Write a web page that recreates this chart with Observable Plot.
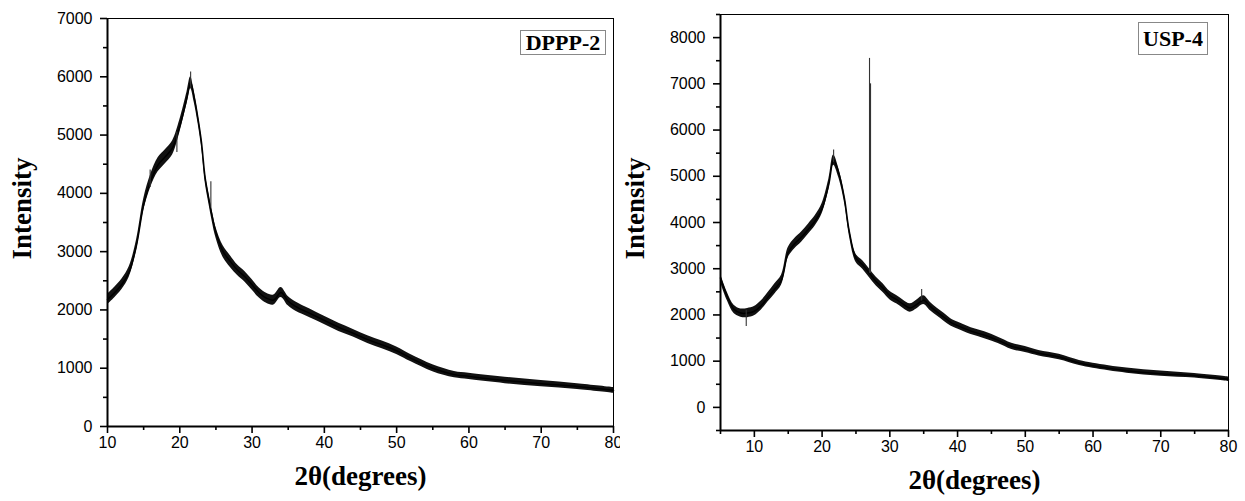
<!DOCTYPE html>
<html><head><meta charset="utf-8">
<script src="https://cdn.jsdelivr.net/npm/d3@7"></script>
<script src="https://cdn.jsdelivr.net/npm/@observablehq/plot@0.6"></script>
<style>
body{margin:0;background:#fff;}
#wrap{position:relative;width:1245px;height:501px;overflow:hidden;background:#fff}
.panel{position:absolute;top:0}
.tag{position:absolute;border:1px solid #888;font-family:"Liberation Serif",serif;font-weight:bold;font-size:22px;text-align:center;background:#fff;box-sizing:border-box;color:#000}
</style></head><body>
<div id="wrap"></div>
<script>
// ---- DPPP-2 (left) ----
const dpppX = [10,11,12,13,14,15,16,17,18,19,20,21,21.5,22,22.5,23,23.5,24,24.5,25,26,27,28,29,30,31,32,33,34,35,36,38,40,42,44,46,48,50,52,55,58,60,65,70,75,80];
const dpppY = [2180,2300,2440,2650,3100,3800,4220,4490,4630,4780,5150,5640,5900,5650,5300,4880,4280,3920,3600,3330,3000,2830,2680,2570,2430,2290,2200,2170,2300,2150,2060,1940,1820,1700,1600,1490,1400,1300,1170,1000,890,860,790,735,685,620];
const dpppN = [90,90,90,90,90,100,110,120,120,120,110,100,100,90,80,80,80,80,90,90,100,100,90,90,90,85,85,85,85,80,80,75,70,70,65,65,65,65,60,60,55,55,55,55,50,50];
const dpppSpikeX = [21.5, 24.3, 15.9, 19.6];
const dpppSpikeLo = [5800, 3750, 4100, 4700];
const dpppSpikeHi = [6080, 4200, 4400, 5050];

// ---- USP-4 (right) ----
const uspX = [5,6,7,8,9,10,11,12,13,14,15,16,17,18,19,20,21,21.7,22.5,23.3,24,25,26,27,28,29,30,31,32,33,34,35,36,37,38,39,40,42,44,46,48,50,52,55,58,60,65,70,75,80];
const uspY = [2800,2400,2120,2040,2040,2080,2200,2380,2560,2750,3350,3550,3690,3860,4040,4300,4830,5350,5050,4520,3820,3230,3080,2900,2720,2580,2420,2330,2230,2150,2230,2320,2180,2060,1950,1840,1770,1650,1560,1450,1320,1250,1170,1090,960,900,795,730,685,610];
const uspN = [90,90,90,90,100,100,100,100,110,110,110,110,110,110,110,110,110,110,100,90,90,90,90,95,95,95,90,90,90,90,95,95,90,85,85,80,75,75,75,70,70,65,60,60,55,55,55,55,50,50];
const uspSpikeX = [21.7, 27.0, 27.15, 8.8, 34.7];
const uspSpikeLo = [5300, 2900, 2900, 1750, 2300];
const uspSpikeHi = [5570, 7550, 7000, 2100, 2550];

// ---- ticks ----
const dpppXTicks = [10,20,30,40,50,60,70,80];
const dpppXMinor = [15,25,35,45,55,65,75];
const dpppYTicks = [0,1000,2000,3000,4000,5000,6000,7000];
const dpppYMinor = [500,1500,2500,3500,4500,5500,6500];
const uspXTicks = [10,20,30,40,50,60,70,80];
const uspXMinor = [5,15,25,35,45,55,65,75];
const uspYTicks = [0,1000,2000,3000,4000,5000,6000,7000,8000];
const uspYMinor = [-500,500,1500,2500,3500,4500,5500,6500,7500,8500];

const xTitle = "2θ(degrees)";
const yTitle = "Intensity";

function rows(xs, ys, ns) { return xs.map((x, i) => ({x, y: ys[i], n: ns[i]})); }
function spikes(xs, lo, hi) { return xs.map((x, i) => ({x, lo: lo[i], hi: hi[i]})); }

function panel(o) {
  const data = rows(o.x, o.y, o.n);
  const sp = spikes(o.sx, o.slo, o.shi);
  const fmt = d => String(d);
  const titleFont = {fontFamily: "Liberation Serif", fontWeight: "bold", fill: "black", textAnchor: "middle"};
  return Plot.plot({
    width: o.width, height: 501,
    marginLeft: o.ml, marginRight: o.mr, marginTop: o.mt, marginBottom: o.mb,
    x: {domain: o.xd},
    y: {domain: o.yd},
    style: {fontFamily: "Liberation Sans", fontSize: "16px", color: "black", background: "white", overflow: "visible"},
    marks: [
      Plot.areaY(data, {x: "x", y1: d => d.y - d.n, y2: d => d.y + d.n, fill: "#111", curve: "catmull-rom"}),
      Plot.line(data, {x: "x", y: "y", stroke: "black", strokeWidth: 1.5, curve: "catmull-rom"}),
      Plot.ruleX(sp, {x: "x", y1: "lo", y2: "hi", stroke: "#333", strokeWidth: 1.1}),
      Plot.ruleY([o.yd[1]], {stroke: "black", strokeWidth: 1}),
      Plot.ruleX([o.xd[1]], {stroke: "black", strokeWidth: 1}),
      Plot.ruleX([o.xd[0]], {stroke: "black", strokeWidth: 2}),
      Plot.ruleY([o.yd[0]], {stroke: "black", strokeWidth: 2}),
      Plot.axisX(o.xt, {tickSize: 7, tickPadding: 3, strokeWidth: 1.6, tickFormat: fmt, label: null, fontSize: 16}),
      Plot.axisX(o.xm, {tickSize: 4, strokeWidth: 1.6, tickFormat: () => "", label: null}),
      Plot.axisY(o.yt, {tickSize: 7, tickPadding: 8, strokeWidth: 1.6, tickFormat: fmt, label: null, fontSize: 16}),
      Plot.axisY(o.ym, {tickSize: 4, strokeWidth: 1.6, tickFormat: () => "", label: null}),
      Plot.text([yTitle], {frameAnchor: "left", text: d => d, rotate: -90, dx: -85, dy: o.ydy, fontSize: 27, ...titleFont}),
      Plot.text([xTitle], {frameAnchor: "bottom", text: d => d, dy: 58, fontSize: 27, ...titleFont})
    ]
  });
}

const wrap = document.getElementById("wrap");
const left = panel({width: 620, ml: 107, mr: 7, mt: 18, mb: 75, xd: [10, 80], yd: [0, 7000],
  x: dpppX, y: dpppY, n: dpppN, sx: dpppSpikeX, slo: dpppSpikeLo, shi: dpppSpikeHi,
  xt: dpppXTicks, xm: dpppXMinor, yt: dpppYTicks, ym: dpppYMinor, ydy: -14});
left.classList.add("panel"); left.style.left = "0px";
wrap.appendChild(left);

const right = panel({width: 625, ml: 100, mr: 17, mt: 14, mb: 71, xd: [5, 80], yd: [-500, 8500],
  x: uspX, y: uspY, n: uspN, sx: uspSpikeX, slo: uspSpikeLo, shi: uspSpikeHi,
  xt: uspXTicks, xm: uspXMinor, yt: uspYTicks, ym: uspYMinor, ydy: -14});
right.classList.add("panel"); right.style.left = "620px";
wrap.appendChild(right);

function tag(text, x, y, w, h) {
  const d = document.createElement("div");
  d.className = "tag";
  d.textContent = text;
  Object.assign(d.style, {left: x + "px", top: y + "px", width: w + "px", height: h + "px", lineHeight: (h - 2) + "px"});
  wrap.appendChild(d);
}
tag("DPPP-2", 520, 30, 86, 25);
tag("USP-4", 1138, 22, 70, 33);
</script>
</body></html>
